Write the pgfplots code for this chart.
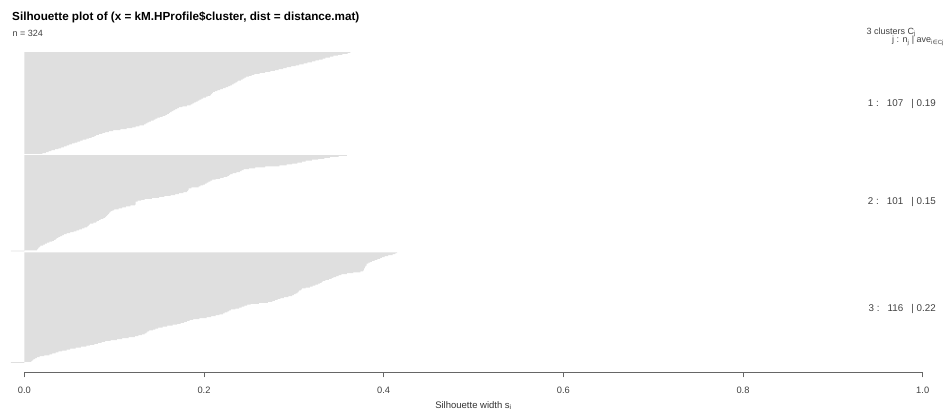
\documentclass[border=0pt]{standalone}
\usepackage{fontspec}
\setmainfont{Liberation Sans}
\newfontfamily\dejavu{DejaVu Sans}
\usepackage{pgfplots}
\pgfplotsset{compat=1.18}
\usepackage{pgfplotstable}

% silhouette widths, sorted within each cluster (top to bottom)
\pgfplotstableread[row sep=\\]{
s\\
0.363\\0.360\\0.354\\0.349\\0.344\\0.340\\0.335\\0.332\\0.328\\0.324\\
0.320\\0.315\\0.311\\0.306\\0.302\\0.297\\0.292\\0.288\\0.283\\0.279\\
0.274\\0.268\\0.262\\0.256\\0.253\\0.250\\0.247\\0.245\\0.243\\0.241\\
0.238\\0.237\\0.235\\0.233\\0.231\\0.229\\0.227\\0.224\\0.221\\0.218\\
0.215\\0.212\\0.210\\0.209\\0.208\\0.207\\0.204\\0.202\\0.199\\0.197\\
0.195\\0.193\\0.191\\0.189\\0.187\\0.185\\0.181\\0.176\\0.172\\0.170\\
0.168\\0.166\\0.164\\0.162\\0.161\\0.159\\0.157\\0.154\\0.151\\0.148\\
0.146\\0.144\\0.141\\0.139\\0.137\\0.135\\0.133\\0.128\\0.124\\0.120\\
0.114\\0.107\\0.099\\0.094\\0.090\\0.087\\0.083\\0.080\\0.078\\0.075\\
0.072\\0.069\\0.065\\0.062\\0.059\\0.056\\0.053\\0.050\\0.047\\0.044\\
0.041\\0.038\\0.034\\0.030\\0.027\\0.024\\0.020\\
}\clusterone

\pgfplotstableread[row sep=\\]{
s\\
0.359\\0.350\\0.340\\0.334\\0.327\\0.320\\0.313\\0.309\\0.304\\0.298\\
0.292\\0.284\\0.268\\0.257\\0.250\\0.244\\0.242\\0.240\\0.236\\0.232\\
0.229\\0.228\\0.226\\0.222\\0.218\\0.213\\0.209\\0.207\\0.205\\0.203\\
0.201\\0.199\\0.196\\0.194\\0.186\\0.183\\0.183\\0.182\\0.181\\0.177\\
0.172\\0.168\\0.163\\0.156\\0.150\\0.142\\0.134\\0.130\\0.126\\0.124\\
0.124\\0.124\\0.123\\0.118\\0.113\\0.109\\0.105\\0.100\\0.098\\0.096\\
0.095\\0.094\\0.093\\0.092\\0.091\\0.090\\0.088\\0.085\\0.083\\0.081\\
0.080\\0.077\\0.073\\0.072\\0.071\\0.070\\0.067\\0.064\\0.061\\0.058\\
0.055\\0.051\\0.047\\0.044\\0.042\\0.040\\0.038\\0.036\\0.035\\0.033\\
0.031\\0.028\\0.025\\0.023\\0.021\\0.018\\0.017\\0.016\\0.015\\0.014\\
-0.015\\
}\clustertwo

\pgfplotstableread[row sep=\\]{
s\\
0.415\\0.413\\0.410\\0.405\\0.401\\0.398\\0.396\\0.393\\0.390\\0.387\\
0.385\\0.383\\0.381\\0.381\\0.380\\0.379\\0.379\\0.378\\0.378\\0.377\\
0.374\\0.366\\0.359\\0.353\\0.350\\0.347\\0.344\\0.342\\0.339\\0.335\\
0.332\\0.331\\0.329\\0.327\\0.324\\0.321\\0.318\\0.313\\0.309\\0.308\\
0.306\\0.305\\0.304\\0.302\\0.300\\0.298\\0.294\\0.289\\0.285\\0.282\\
0.279\\0.276\\0.271\\0.261\\0.252\\0.248\\0.245\\0.242\\0.239\\0.235\\
0.230\\0.228\\0.226\\0.223\\0.221\\0.217\\0.213\\0.208\\0.203\\0.195\\
0.188\\0.184\\0.181\\0.178\\0.174\\0.170\\0.165\\0.159\\0.154\\0.149\\
0.146\\0.143\\0.139\\0.137\\0.136\\0.134\\0.131\\0.127\\0.123\\0.116\\
0.109\\0.103\\0.096\\0.090\\0.086\\0.082\\0.078\\0.073\\0.069\\0.063\\
0.057\\0.051\\0.047\\0.042\\0.038\\0.035\\0.031\\0.028\\0.022\\0.017\\
0.014\\0.012\\0.010\\0.009\\0.008\\-0.015\\
}\clusterthree

\begin{document}
\begin{tikzpicture}[x=1pt,y=1pt]
\path[use as bounding box] (0,0) rectangle (945,410);
\begin{axis}[
    at={(24.3pt,37.7pt)}, anchor=south west,
    scale only axis, width=898.4pt, height=320.3pt,
    xmin=0, xmax=1, ymin=-9.25, ymax=326.5,
    clip=false,
    hide y axis,
    axis x line*=bottom,
    axis line style={black!60, line width=0.7pt, -},
    xtick={0,0.2,0.4,0.6,0.8,1},
    tick align=outside,
    major tick length=5pt,
    tick style={black!60, line width=0.7pt},
    xticklabel style={font=\fontsize{9.3}{11}\selectfont, text=black!75, yshift=-6pt,
        /pgf/number format/.cd, fixed, fixed zerofill, precision=1, assume math mode=true},
]
\addplot[xbar, bar width=0.8, bar shift=0pt, fill=gray!25, draw=none]
    table[x=s, y index=0, y expr=326-\coordindex] {\clusterone};
\addplot[xbar, bar width=0.8, bar shift=0pt, fill=gray!25, draw=none]
    table[x=s, y index=0, y expr=218-\coordindex] {\clustertwo};
\addplot[xbar, bar width=0.8, bar shift=0pt, fill=gray!25, draw=none]
    table[x=s, y index=0, y expr=116-\coordindex] {\clusterthree};
\end{axis}

\node[anchor=base west, inner sep=0pt, font=\bfseries\fontsize{11.7}{14}\selectfont] at (12,389.5)
    {Silhouette plot of (x = kM.HProfile\$cluster, dist = distance.mat)};
\node[anchor=base west, inner sep=0pt, font=\fontsize{9}{11}\selectfont, text=black!75] at (12.5,373.5) {n = 324};
\node[anchor=base, inner sep=0pt, font=\fontsize{9.5}{11}\selectfont, text=black!80] at (473.5,2)
    {Silhouette width s\textsubscript{i}};

\begin{scope}[every node/.style={inner sep=0pt, font=\fontsize{9.8}{11}\selectfont, text=black!75}]
\node[anchor=base west, font=\fontsize{9}{11}\selectfont] at (866.5,375.5) {3 clusters C\textsubscript{j}};
\node[anchor=base west, font=\fontsize{9}{11}\selectfont] at (892,367)
    {j : n\textsubscript{j} | ave\textsubscript{i{\dejavu ∈}Cj} s\textsubscript{i}};
\node[anchor=base east] at (936,303.5) {1 :\ \ \ 107\ \ \ |\ 0.19};
\node[anchor=base east] at (936,205) {2 :\ \ \ 101\ \ \ |\ 0.15};
\node[anchor=base east] at (936,98.5) {3 :\ \ \ 116\ \ \ |\ 0.22};
\end{scope}
\end{tikzpicture}
\end{document}
